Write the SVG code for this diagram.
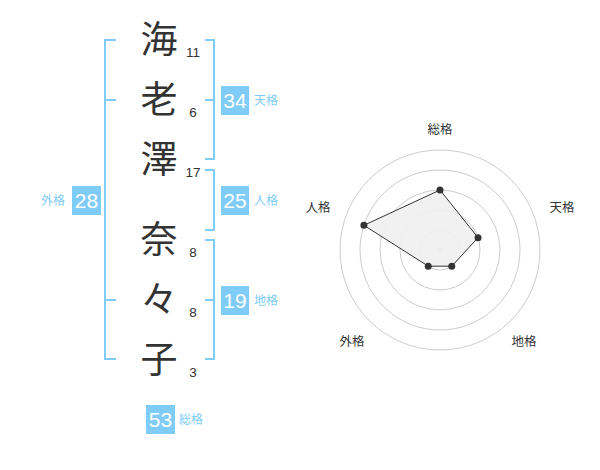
<svg xmlns="http://www.w3.org/2000/svg" width="600" height="470" viewBox="0 0 600 470">
<style>
.ch{font-family:"Noto Sans CJK JP","Noto Sans CJK SC",sans-serif;font-size:37px;fill:#333;text-anchor:middle}
.num{font-family:"Liberation Sans",Arial,sans-serif;font-size:13.5px;fill:#333;text-anchor:middle}
.br{fill:none;stroke:#80ccf8;stroke-width:2}
.box{fill:#80ccf8}
.bv{font-family:"Liberation Sans",Arial,sans-serif;font-size:21px;fill:#fff;text-anchor:middle}
.bl{font-family:"Noto Sans CJK JP","Noto Sans CJK SC",sans-serif;font-size:12px;fill:#80ccf8}
.ring{fill:none;stroke:#ccc;stroke-width:1}
.rl{font-family:"Noto Sans CJK JP","Noto Sans CJK SC",sans-serif;font-size:12.5px;fill:#333;text-anchor:middle}
</style>
<rect width="600" height="470" fill="#fff"/>
<g id="name">
<text class="ch" x="159" y="53">海</text>
<text class="ch" x="159" y="113">老</text>
<text class="ch" x="159" y="173">澤</text>
<text class="ch" x="159" y="253">奈</text>
<text class="ch" x="159" y="313">々</text>
<text class="ch" x="159" y="373">子</text>
<text class="num" x="193" y="57">11</text>
<text class="num" x="193" y="117">6</text>
<text class="num" x="193" y="177">17</text>
<text class="num" x="193" y="257">8</text>
<text class="num" x="193" y="317">8</text>
<text class="num" x="193" y="377">3</text>
</g>
<g id="connectors">
<path class="br" d="M116,40H105V359H116M105,100H116M105,300H116"/>
<path class="br" d="M205,40H214V159H205M214,100H205"/>
<path class="br" d="M205,170H214V230H205"/>
<path class="br" d="M205,240H214V359H205M214,300H205"/>
</g>
<g id="tenkaku">
<rect class="box" x="221" y="86" width="28" height="29"/>
<text class="bv" x="235" y="108">34</text>
<text class="bl" x="254" y="105">天格</text>
</g>
<g id="jinkaku">
<rect class="box" x="221" y="186" width="28" height="29"/>
<text class="bv" x="235" y="208">25</text>
<text class="bl" x="254" y="205">人格</text>
</g>
<g id="chikaku">
<rect class="box" x="221" y="286" width="28" height="29"/>
<text class="bv" x="235" y="308">19</text>
<text class="bl" x="254" y="305">地格</text>
</g>
<g id="gaikaku">
<rect class="box" x="72" y="186" width="29" height="29"/>
<text class="bv" x="86.5" y="208">28</text>
<text class="bl" x="41" y="205">外格</text>
</g>
<g id="soukaku">
<rect class="box" x="146" y="405" width="29" height="29"/>
<text class="bv" x="160.5" y="427">53</text>
<text class="bl" x="179" y="424">総格</text>
</g>
<g id="radar">
<circle class="ring" cx="440" cy="250" r="20"/>
<circle class="ring" cx="440" cy="250" r="40"/>
<circle class="ring" cx="440" cy="250" r="60"/>
<circle class="ring" cx="440" cy="250" r="80"/>
<circle class="ring" cx="440" cy="250" r="100"/>
<circle cx="440" cy="250" r="3" fill="#ccc"/>
<polygon points="440,190 478.04,237.64 451.76,266.18 428.24,266.18 363.9,225.3" fill="#f0f0f0" fill-opacity="0.9" stroke="#333" stroke-width="1"/>
<g fill="#333">
<circle cx="440" cy="190" r="3.5"/>
<circle cx="478.04" cy="237.64" r="3.5"/>
<circle cx="451.76" cy="266.18" r="3.5"/>
<circle cx="428.24" cy="266.18" r="3.5"/>
<circle cx="363.9" cy="225.3" r="3.5"/>
</g>
<text class="rl" x="440" y="134">総格</text>
<text class="rl" x="562" y="212">天格</text>
<text class="rl" x="524" y="346">地格</text>
<text class="rl" x="352" y="346">外格</text>
<text class="rl" x="318" y="212">人格</text>
</g>
</svg>
